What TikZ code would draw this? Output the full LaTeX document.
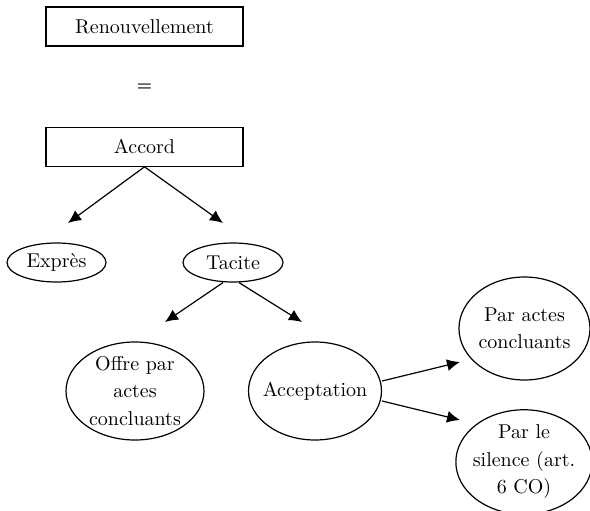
\documentclass[tikz,border=0pt]{standalone}
\usepackage{tikz}
\usetikzlibrary{arrows.meta,positioning,shapes.geometric}

\begin{document}
\begin{tikzpicture}[x=0.5pt,y=-0.5pt,>={Latex[length=6.5pt,width=6pt]}]
    \tikzset{box/.style= {draw, rectangle, line width=0.6pt, minimum width=98.5pt, minimum height=19.5pt, inner sep=0pt},
    oval/.style={draw, ellipse, line width=0.6pt, align=center, inner sep=0pt, font=\fontsize{10}{13.75}\selectfont},
    }
    \useasboundingbox (0,0) rectangle (590,510);
    \node [box] (renouv) at (144.5,26.5) {Renouvellement};
    \node [below=18.5pt of renouv, inner sep=0pt, font=\footnotesize\bfseries] (egal) {=};
    \node [box, below=40pt of renouv] (accord) {Accord};
    \node [oval, minimum width=49.5pt, minimum height=19.5pt] (expres) at (56.5,262.5) {Exprès};
    \node [oval, minimum width=50pt, minimum height=19.5pt] (tacite) at (233,262.5) {Tacite};
    \node [oval, minimum width=69pt, minimum height=49pt] (offre) at (135,391) {Offre par\\actes\\concluants};
    \node [oval, inner xsep=-3pt, minimum width=66.5pt, minimum height=49pt] (accept) at (315,391) {Acceptation};
    \node [oval, minimum width=65.5pt, minimum height=51.5pt] (paractes) at (524.5,328.5) {Par actes\\concluants};
    \node [oval, inner xsep=-1.5pt, minimum width=66pt, minimum height=50pt] (silence) at (524,462) {Par le\\silence (art.\\6 CO)};
    %% free ends of the arrows
    \coordinate (expres-tip) at (68,223);
    \coordinate (tacite-tip) at (223,223);
    \coordinate (offre-tip) at (165,322);
    \coordinate (accept-tip) at (302,322);
    \coordinate (paractes-tip) at (460,362);
    \coordinate (silence-tip) at (460,420);

% paths
    \path[->,line width=0.6pt]
                (accord.south) edge (expres-tip)
                (accord.south) edge (tacite-tip)
                ([xshift=-5pt]tacite.south) edge (offre-tip)
                ([xshift=3pt]tacite.south) edge (accept-tip)
                ([yshift=5pt]accept.east) edge (paractes-tip)
                ([yshift=-5pt]accept.east) edge (silence-tip)
                ;
\end{tikzpicture}
\end{document}
